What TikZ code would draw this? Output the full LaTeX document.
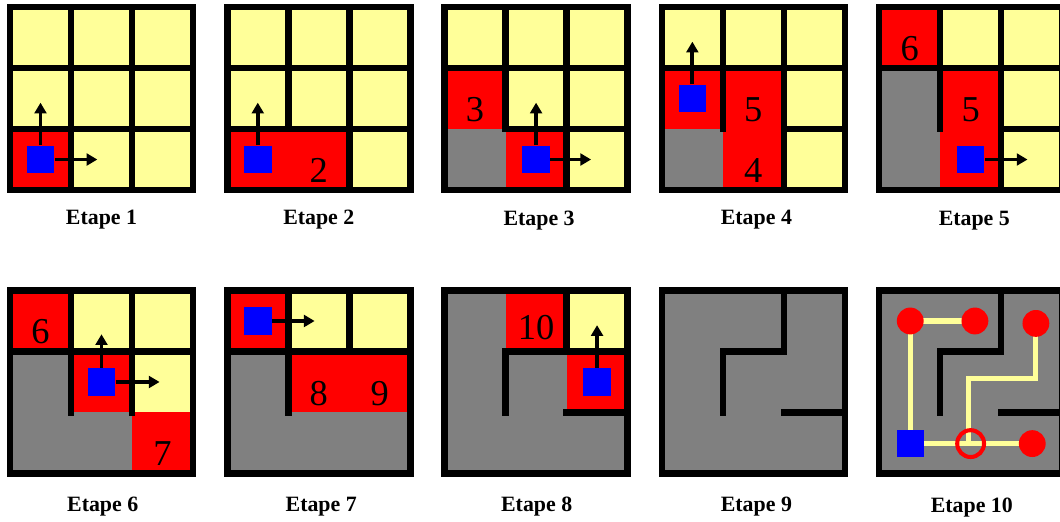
\documentclass[tikz,border=0pt]{standalone}
\usepackage{fontspec}
\setmainfont{Liberation Serif}
\usetikzlibrary{arrows.meta}
\definecolor{jaune}{RGB}{255,255,153}
\definecolor{gris}{RGB}{128,128,128}

\begin{document}
\begin{tikzpicture}[>={Triangle[length=5pt,width=5.5pt]},
    mur/.style={line width=3.1pt, line cap=rect},
    agent/.style={fill=blue, minimum size=0.45cm, inner sep=0pt},
    move/.style={->, line width=1.8pt},
    chiffre/.style={font=\fontsize{17}{20}\selectfont, anchor=base, inner sep=0pt},
    etape/.style={font=\bfseries\fontsize{10.2}{12}\selectfont, anchor=base, inner sep=0pt},
    pion/.style={circle, fill=red, minimum size=0.44cm, inner sep=0pt},
    anneau/.style={circle, draw=red, line width=1.9pt, minimum size=0.44cm, inner sep=0pt},
    chemin/.style={jaune, line width=2.4pt}]
    \useasboundingbox (0,0) rectangle (17.377,8.541);
    \clip (0,0) rectangle (17.377,8.541);

    % Etape 1
    \begin{scope}[xshift=0.164cm, yshift=5.426cm]
        \fill[jaune] (0,0) rectangle (3,3);
        \fill[red] (0,0) rectangle (1,1);
        \draw[mur] (0,0) rectangle (3,3);
        \foreach \k in {1,2} {
            \draw[mur] (\k,0) -- (\k,3);
            \draw[mur] (0,\k) -- (3,\k);
        }
        \node[agent] (a1) at (0.5,0.5) {};
        \draw[move] (a1.north) -- ++(0,0.7);
        \draw[move] (a1.east) -- ++(0.7,0);
        \node[etape] (e1) at (1.5,-0.57) {Etape 1};
    \end{scope}

    % Etape 2
    \begin{scope}[xshift=3.726cm, yshift=5.426cm]
        \fill[jaune] (0,0) rectangle (3,3);
        \fill[red] (0,0) rectangle (2,1);
        \draw[mur] (0,0) rectangle (3,3);
        \draw[mur] (1,1) -- (1,3);
        \draw[mur] (2,0) -- (2,3);
        \draw[mur] (0,1) -- (3,1);
        \draw[mur] (0,2) -- (3,2);
        \node[agent] (a2) at (0.5,0.5) {};
        \draw[move] (a2.north) -- ++(0,0.7);
        \node[chiffre] (n2) at (1.5,0.12) {2};
        \node[etape] (e2) at (1.5,-0.57) {Etape 2};
    \end{scope}

    % Etape 3
    \begin{scope}[xshift=7.288cm, yshift=5.426cm]
        \fill[jaune] (0,0) rectangle (3,3);
        \fill[gris] (0,0) rectangle (1,1);
        \fill[red] (1,0) rectangle (2,1);
        \fill[red] (0,1) rectangle (1,2);
        \draw[mur] (0,0) rectangle (3,3);
        \draw[mur] (1,1) -- (1,3);
        \draw[mur] (2,0) -- (2,3);
        \draw[mur] (1,1) -- (3,1);
        \draw[mur] (0,2) -- (3,2);
        \node[agent] (a3) at (1.5,0.5) {};
        \draw[move] (a3.north) -- ++(0,0.7);
        \draw[move] (a3.east) -- ++(0.67,0);
        \node[chiffre] (n3) at (0.5,1.13) {3};
        \node[etape] (e3) at (1.55,-0.58) {Etape 3};
    \end{scope}

    % Etape 4
    \begin{scope}[xshift=10.850cm, yshift=5.426cm]
        \fill[jaune] (0,0) rectangle (3,3);
        \fill[gris] (0,0) rectangle (1,1);
        \fill[red] (1,0) rectangle (2,2);
        \fill[red] (0,1) rectangle (1,2);
        \draw[mur] (0,0) rectangle (3,3);
        \draw[mur] (1,1) -- (1,3);
        \draw[mur] (2,0) -- (2,3);
        \draw[mur] (0,2) -- (3,2);
        \draw[mur] (2,1) -- (3,1);
        \node[agent] (a4) at (0.5,1.5) {};
        \draw[move] (a4.north) -- ++(0,0.7);
        \node[chiffre] (n5) at (1.5,1.13) {5};
        \node[chiffre] (n4) at (1.5,0.13) {4};
        \node[etape] (e4) at (1.55,-0.57) {Etape 4};
    \end{scope}

    % Etape 5
    \begin{scope}[xshift=14.412cm, yshift=5.426cm]
        \fill[jaune] (0,0) rectangle (3,3);
        \fill[gris] (0,0) rectangle (1,2);
        \fill[red] (0,2) rectangle (1,3);
        \fill[red] (1,0) rectangle (2,2);
        \draw[mur] (0,0) rectangle (3,3);
        \draw[mur] (1,1) -- (1,3);
        \draw[mur] (2,0) -- (2,3);
        \draw[mur] (0,2) -- (3,2);
        \draw[mur] (2,1) -- (3,1);
        \node[agent] (a5) at (1.5,0.5) {};
        \draw[move] (a5.east) -- ++(0.7,0);
        \node[chiffre] (n6) at (0.5,2.13) {6};
        \node[chiffre] (n5b) at (1.5,1.13) {5};
        \node[etape] (e5) at (1.56,-0.58) {Etape 5};
    \end{scope}

    % Etape 6
    \begin{scope}[xshift=0.164cm, yshift=0.779cm]
        \fill[jaune] (0,0) rectangle (3,3);
        \fill[gris] (0,0) rectangle (1,2);
        \fill[gris] (1,0) rectangle (2,1);
        \fill[red] (0,2) rectangle (1,3);
        \fill[red] (1,1) rectangle (2,2);
        \fill[red] (2,0) rectangle (3,1);
        \draw[mur] (0,0) rectangle (3,3);
        \draw[mur] (1,1) -- (1,3);
        \draw[mur] (2,1) -- (2,3);
        \draw[mur] (0,2) -- (3,2);
        \node[agent] (a6) at (1.5,1.5) {};
        \draw[move] (a6.north) -- ++(0,0.55);
        \draw[move] (a6.east) -- ++(0.72,0);
        \node[chiffre] (n6b) at (0.5,2.13) {6};
        \node[chiffre] (n7) at (2.5,0.13) {7};
        \node[etape] (e6) at (1.52,-0.63) {Etape 6};
    \end{scope}

    % Etape 7
    \begin{scope}[xshift=3.726cm, yshift=0.779cm]
        \fill[jaune] (0,0) rectangle (3,3);
        \fill[gris] (0,0) rectangle (3,1);
        \fill[gris] (0,1) rectangle (1,2);
        \fill[red] (0,2) rectangle (1,3);
        \fill[red] (1,1) rectangle (3,2);
        \draw[mur] (0,0) rectangle (3,3);
        \draw[mur] (1,1) -- (1,3);
        \draw[mur] (2,2) -- (2,3);
        \draw[mur] (0,2) -- (3,2);
        \node[agent] (a7) at (0.5,2.5) {};
        \draw[move] (a7.east) -- ++(0.7,0);
        \node[chiffre] (n8) at (1.5,1.12) {8};
        \node[chiffre] (n9) at (2.5,1.12) {9};
        \node[etape] (e7) at (1.54,-0.63) {Etape 7};
    \end{scope}

    % Etape 8
    \begin{scope}[xshift=7.288cm, yshift=0.779cm]
        \fill[gris] (0,0) rectangle (3,3);
        \fill[red] (1,2) rectangle (2,3);
        \fill[jaune] (2,2) rectangle (3,3);
        \fill[red] (2,1) rectangle (3,2);
        \draw[mur] (0,0) rectangle (3,3);
        \draw[mur] (2,3) -- (2,2);
        \draw[mur] (1,1) -- (1,2) -- (3,2);
        \draw[mur] (2,1) -- (3,1);
        \node[agent] (a8) at (2.5,1.5) {};
        \draw[move] (a8.north) -- ++(0,0.7);
        \node[chiffre] (n10) at (1.5,2.2) {10};
        \node[etape] (e8) at (1.51,-0.63) {Etape 8};
    \end{scope}

    % Etape 9
    \begin{scope}[xshift=10.850cm, yshift=0.779cm]
        \fill[gris] (0,0) rectangle (3,3);
        \draw[mur] (0,0) rectangle (3,3);
        \draw[mur] (2,3) -- (2,2) -- (1,2) -- (1,1);
        \draw[mur] (2,1) -- (3,1);
        \node[etape] (e9) at (1.55,-0.63) {Etape 9};
    \end{scope}

    % Etape 10
    \begin{scope}[xshift=14.412cm, yshift=0.779cm]
        \fill[gris] (0,0) rectangle (3,3);
        \draw[mur] (0,0) rectangle (3,3);
        \draw[mur] (2,3) -- (2,2) -- (1,2) -- (1,1);
        \draw[mur] (2,1) -- (3,1);
        % le chemin
        \coordinate (q00) at (0.51,0.49);
        \coordinate (q10) at (1.50,0.49);
        \coordinate (q20) at (2.51,0.49);
        \coordinate (q02) at (0.51,2.50);
        \coordinate (q12) at (1.57,2.50);
        \coordinate (q22) at (2.57,2.46);
        \coordinate (coude) at (1.46,1.56);
        \draw[chemin] (q12) -- (q02) -- (q00) -- (q20);
        \draw[chemin] (q10 -| coude) -- (coude) -| (q22);
        \node[pion] (p02) at (q02) {};
        \node[pion] (p12) at (q12) {};
        \node[pion] (p22) at (q22) {};
        \node[pion] (p20) at (q20) {};
        \node[anneau] (r10) at (q10) {};
        \node[agent] (a10) at (q00) {};
        \node[etape] (e10) at (1.52,-0.64) {Etape 10};
    \end{scope}
\end{tikzpicture}
\end{document}
